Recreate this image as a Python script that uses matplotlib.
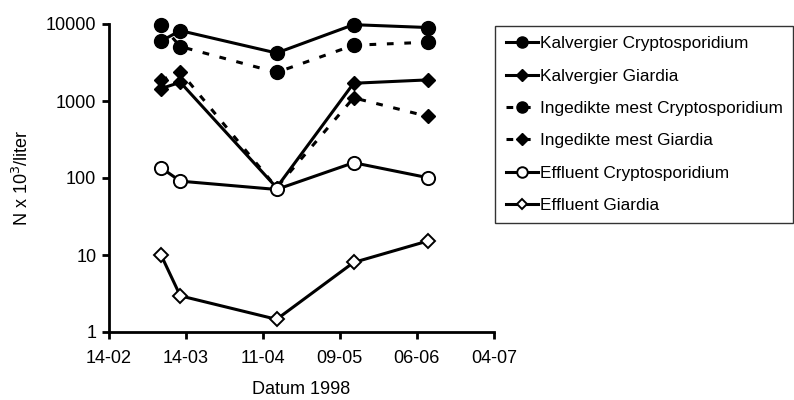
import matplotlib
matplotlib.use('Agg')
import matplotlib.pyplot as plt
import matplotlib.dates as mdates
from datetime import datetime

plt.rcParams['font.family'] = ['Liberation Sans', 'DejaVu Sans']

# sampling dates (1998)
dates = [datetime(1998, 3, 5), datetime(1998, 3, 12), datetime(1998, 4, 16),
         datetime(1998, 5, 14), datetime(1998, 6, 10)]

kalv_crypto = [6000, 8200, 4200, 9800, 9000]
kalv_giardia = [1450, 1750, 75, 1700, 1880]
ingedikt_crypto = [9800, 5100, 2350, 5300, 5800]
ingedikt_giardia = [1850, 2400, 75, 1100, 630]
eff_crypto = [136, 91, 71, 158, 101]
eff_giardia = [10, 2.95, 1.46, 8.0, 15.2]

tick_dates = [datetime(1998, 2, 14), datetime(1998, 3, 14), datetime(1998, 4, 11),
              datetime(1998, 5, 9), datetime(1998, 6, 6), datetime(1998, 7, 4)]

fig = plt.figure(figsize=(7.94, 4.0), dpi=100)
ax = fig.add_axes([0.137, 0.17, 0.485, 0.77])

lw = 2.2
dash = (0, (2.2, 3.5))
ax.plot(dates, kalv_crypto, color='black', lw=lw, marker='o', ms=10,
        label='Kalvergier Cryptosporidium', zorder=3, clip_on=False)
ax.plot(dates, kalv_giardia, color='black', lw=lw, marker='D', ms=7.5,
        label='Kalvergier Giardia', zorder=3, clip_on=False)
ax.plot(dates, ingedikt_crypto, color='black', lw=lw, ls=dash, marker='o', ms=10,
        label='Ingedikte mest Cryptosporidium', zorder=3, clip_on=False)
ax.plot(dates, ingedikt_giardia, color='black', lw=lw, ls=dash, marker='D', ms=7.5,
        label='Ingedikte mest Giardia', zorder=3, clip_on=False)
ax.plot(dates, eff_crypto, color='black', lw=lw, marker='o', ms=9.5,
        mfc='white', mec='black', mew=1.4, label='Effluent Cryptosporidium',
        zorder=4, clip_on=False)
ax.plot(dates, eff_giardia, color='black', lw=lw, marker='D', ms=7,
        mfc='white', mec='black', mew=1.4, label='Effluent Giardia',
        zorder=4, clip_on=False)

ax.set_yscale('log')
ax.set_ylim(1, 10000)
ax.set_yticks([1, 10, 100, 1000, 10000])
ax.set_yticklabels(['1', '10', '100', '1000', '10000'])
ax.minorticks_off()

ax.set_xlim(tick_dates[0], tick_dates[-1])
ax.set_xticks(tick_dates)
ax.xaxis.set_major_formatter(mdates.DateFormatter('%d-%m'))

for side in ['top', 'right']:
    ax.spines[side].set_visible(False)
for side in ['left', 'bottom']:
    ax.spines[side].set_linewidth(2)
ax.tick_params(direction='out', length=5, width=2, labelsize=13, pad=4)
ax.tick_params(axis='x', pad=8)

ax.set_ylabel('N x 10$^3$/liter', fontsize=13, labelpad=10)
ax.set_xlabel('Datum 1998', fontsize=13, labelpad=10)

leg = ax.legend(loc='upper left', bbox_to_anchor=(0.99, 1.01), fontsize=12.4,
                frameon=True, fancybox=False, handlelength=1.9, handletextpad=0.1,
                labelspacing=1.0, borderpad=0.6, borderaxespad=0.3, markerscale=0.8)
leg.get_frame().set_edgecolor('black')
leg.get_frame().set_linewidth(1)

fig.savefig('out.png', dpi=100)
